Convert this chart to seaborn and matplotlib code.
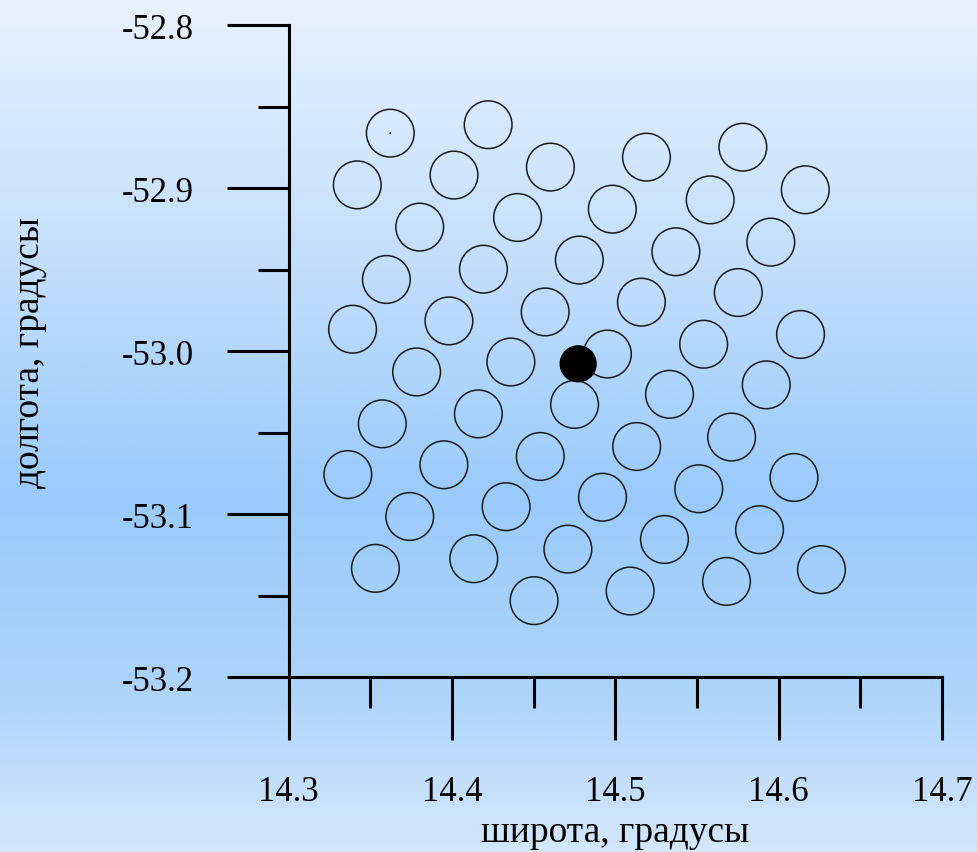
import numpy as np
import pandas as pd
import matplotlib
matplotlib.use("Agg")
import matplotlib.pyplot as plt
import seaborn as sns
from matplotlib.ticker import FixedLocator, FixedFormatter, MultipleLocator

# Station positions (degrees)
lat = [14.3623, 14.4222, 14.3421, 14.4013, 14.4603, 14.5191, 14.5781, 14.6163,
       14.5581, 14.4982, 14.4402, 14.3803, 14.3599, 14.4193, 14.4780, 14.5371,
       14.5952, 14.5753, 14.5160, 14.4571, 14.3982, 14.3392, 14.6134, 14.5541,
       14.4952, 14.4361, 14.3784, 14.5924, 14.5332, 14.4751, 14.4162, 14.3574,
       14.5712, 14.5131, 14.4541, 14.3951, 14.3363, 14.6094, 14.5511, 14.4922,
       14.4332, 14.3742, 14.5883, 14.5301, 14.4710, 14.4134, 14.3532, 14.6262,
       14.5681, 14.5091, 14.4503]
lon = [-52.8663, -52.8611, -52.8980, -52.8920, -52.8871, -52.8810, -52.8749, -52.9010,
       -52.9072, -52.9129, -52.9180, -52.9239, -52.9560, -52.9497, -52.9441, -52.9390,
       -52.9331, -52.9640, -52.9699, -52.9759, -52.9814, -52.9865, -52.9897, -52.9957,
       -53.0017, -53.0066, -53.0127, -53.0206, -53.0264, -53.0326, -53.0384, -53.0445,
       -53.0526, -53.0584, -53.0645, -53.0696, -53.0756, -53.0774, -53.0843, -53.0895,
       -53.0953, -53.1013, -53.1094, -53.1154, -53.1213, -53.1272, -53.1331, -53.1339,
       -53.1411, -53.1470, -53.1529]

# Selected point
sel_lat = [14.4773]
sel_lon = [-53.0077]

# Reference mark inside the first station
ref_lat = [14.3623]
ref_lon = [-52.8663]

x_major = [14.3, 14.4, 14.5, 14.6, 14.7]
x_labels = ["14.3", "14.4", "14.5", "14.6", "14.7"]
y_major = [-53.2, -53.1, -53.0, -52.9, -52.8]
y_labels = ["-53.2", "-53.1", "-53.0", "-52.9", "-52.8"]
x_title = "широта, градусы"
y_title = "долгота, градусы"

stations = pd.DataFrame({"lat": lat, "lon": lon})
selected = pd.DataFrame({"lat": sel_lat, "lon": sel_lon})
ref = pd.DataFrame({"lat": ref_lat, "lon": ref_lon})

sns.set_theme(style="ticks")
plt.rcParams["font.family"] = ["Liberation Serif", "DejaVu Serif"]

fig = plt.figure(figsize=(9.77, 8.53), dpi=100)

# Vertical gradient background
stops = np.array([0.0, 0.3, 0.58, 0.8, 1.0])
cols = np.array([[232, 242, 253],
                 [196, 223, 251],
                 [154, 203, 251],
                 [172, 211, 250],
                 [212, 231, 250]]) / 255.0
t = np.linspace(0, 1, 400)
grad = np.stack([np.interp(t, stops, cols[:, k]) for k in range(3)], axis=-1)
grad = np.repeat(grad[:, None, :], 2, axis=1)
bg = fig.add_axes([0, 0, 1, 1], zorder=0)
bg.imshow(grad, aspect="auto", extent=[0, 1, 0, 1], origin="upper")
bg.set_axis_off()

ax = fig.add_axes([0.2953, 0.2046, 0.6689, 0.7649], zorder=1)
ax.patch.set_alpha(0)

sns.scatterplot(data=stations, x="lat", y="lon", ax=ax, s=1180,
                facecolor="none", edgecolor="#1a1a1a", linewidth=1.1,
                legend=False, zorder=3)
sns.scatterplot(data=selected, x="lat", y="lon", ax=ax, s=720,
                color="black", edgecolor="none", legend=False, zorder=4)
sns.scatterplot(data=ref, x="lat", y="lon", ax=ax, s=2,
                color="black", edgecolor="none", legend=False, zorder=4)

ax.set_xlim(14.3, 14.7)
ax.set_ylim(-53.2, -52.8)

ax.xaxis.set_major_locator(FixedLocator(x_major))
ax.xaxis.set_major_formatter(FixedFormatter(x_labels))
ax.yaxis.set_major_locator(FixedLocator(y_major))
ax.yaxis.set_major_formatter(FixedFormatter(y_labels))
ax.xaxis.set_minor_locator(MultipleLocator(0.05))
ax.yaxis.set_minor_locator(MultipleLocator(0.05))

sns.despine(ax=ax)
for side in ("left", "bottom"):
    ax.spines[side].set_linewidth(2.2)
    ax.spines[side].set_color("black")

ax.tick_params(which="major", length=45, width=2.2, color="black",
               labelsize=25, labelcolor="black")
ax.tick_params(which="minor", length=22.5, width=2.2, color="black")
ax.tick_params(axis="x", which="major", pad=25)
ax.tick_params(axis="y", which="major", pad=23)

ax.set_xlabel(x_title, fontsize=27, color="black")
ax.set_ylabel(y_title, fontsize=27, color="black")
ax.xaxis.set_label_coords(0.5, -0.21)
ax.yaxis.set_label_coords(-0.37, 0.5)

fig.savefig("out.png", dpi=100)
